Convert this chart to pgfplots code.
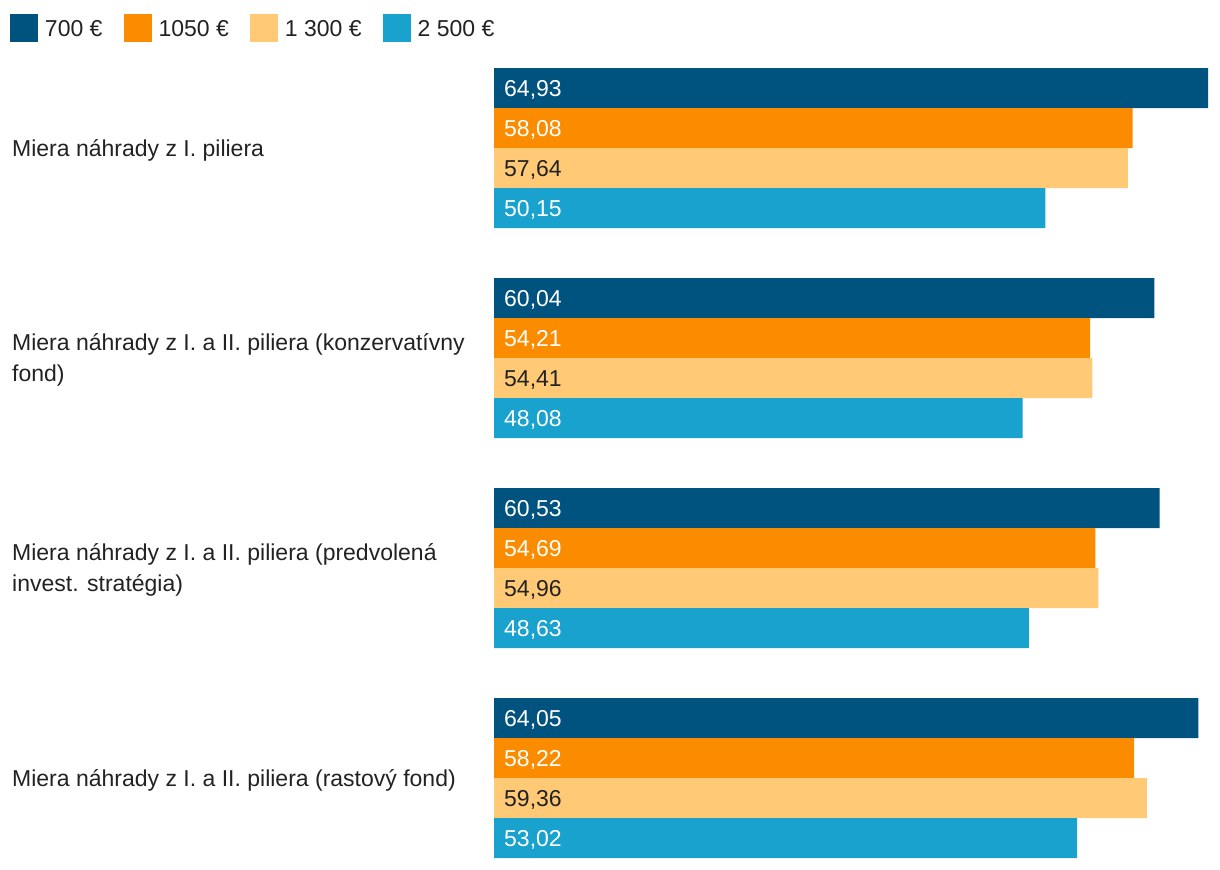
\documentclass[border=0pt]{standalone}
\usepackage{fontspec}
\setmainfont{Liberation Sans}
\usepackage{pgfplots}
\pgfplotsset{compat=1.18}
\usepackage{pgfplotstable}
\definecolor{cA}{HTML}{00537F}
\definecolor{cB}{HTML}{FB8C00}
\definecolor{cC}{HTML}{FFC976}
\definecolor{cD}{HTML}{1AA2CF}
\definecolor{txt}{HTML}{222222}

\pgfplotstableread{
y v
88 64.93
298 60.04
508 60.53
718 64.05
}\tA
\pgfplotstableread{
y v
128 58.08
338 54.21
548 54.69
758 58.22
}\tB
\pgfplotstableread{
y v
168 57.64
378 54.41
588 54.96
798 59.36
}\tC
\pgfplotstableread{
y v
208 50.15
418 48.08
628 48.63
838 53.02
}\tD

\begin{document}
\fontsize{23bp}{31bp}\selectfont
\begin{tikzpicture}[x=1bp,y=1bp]
\path (0,0) rectangle (1220,870);
\begin{axis}[
 at={(494bp,0bp)}, anchor=south west,
 scale only axis, width=726bp, height=870bp,
 xmin=0, xmax=66.02, ymin=0, ymax=870, y dir=reverse,
 hide axis, clip=false,
 /pgf/number format/.cd, use comma, fixed, fixed zerofill, precision=2, assume math mode=true, /pgfplots/.cd,
 bar width=40,
 legend style={at={([xshift=-484bp,yshift=-14bp]axis cs:0,0)}, anchor=north west,
   draw=none, fill=none, inner sep=0pt, outer sep=0pt, legend columns=-1,
   font=\fontsize{23bp}{27bp}\selectfont, text=txt,
   nodes={inner sep=0pt, anchor=base west},
   /tikz/every odd column/.style={column sep=7bp},
   /tikz/every even column/.style={column sep=21bp}},
 legend image code/.code={\fill[#1] (0bp,-5.8bp) rectangle (28bp,22.2bp);},
 lab/.style={draw=none, forget plot, nodes near coords,
   point meta=explicit,
   nodes near coords style={anchor=base west, inner sep=0pt, xshift=10bp, yshift=-8.5bp,
     font=\fontsize{23bp}{27bp}\selectfont, text=#1}},
]
\addplot[xbar, bar shift=0pt, fill=cA, draw=none] table[x=v,y=y]{\tA};
\addlegendentry{700 €}
\addplot[xbar, bar shift=0pt, fill=cB, draw=none] table[x=v,y=y]{\tB};
\addlegendentry{1050 €}
\addplot[xbar, bar shift=0pt, fill=cC, draw=none] table[x=v,y=y]{\tC};
\addlegendentry{1 300 €}
\addplot[xbar, bar shift=0pt, fill=cD, draw=none] table[x=v,y=y]{\tD};
\addlegendentry{2 500 €}
\addplot[lab=white] table[x expr=0,y=y,meta=v]{\tA};
\addplot[lab=white] table[x expr=0,y=y,meta=v]{\tB};
\addplot[lab=txt] table[x expr=0,y=y,meta=v]{\tC};
\addplot[lab=white] table[x expr=0,y=y,meta=v]{\tD};
\begin{scope}[every node/.style={anchor=base west, align=left, inner sep=0pt, text=txt,
   font=\fontsize{23bp}{31bp}\selectfont}]
\node at ([xshift=-482bp,yshift=-8bp]axis cs:0,148) {Miera náhrady z I. piliera};
\node at ([xshift=-482bp,yshift=-23bp]axis cs:0,358) {Miera náhrady z I. a II. piliera (konzervatívny\\fond)};
\node at ([xshift=-482bp,yshift=-23bp]axis cs:0,568) {Miera náhrady z I. a II. piliera (predvolená\\invest. stratégia)};
\node at ([xshift=-482bp,yshift=-8bp]axis cs:0,778) {Miera náhrady z I. a II. piliera (rastový fond)};
\end{scope}
\end{axis}
\end{tikzpicture}
\end{document}
